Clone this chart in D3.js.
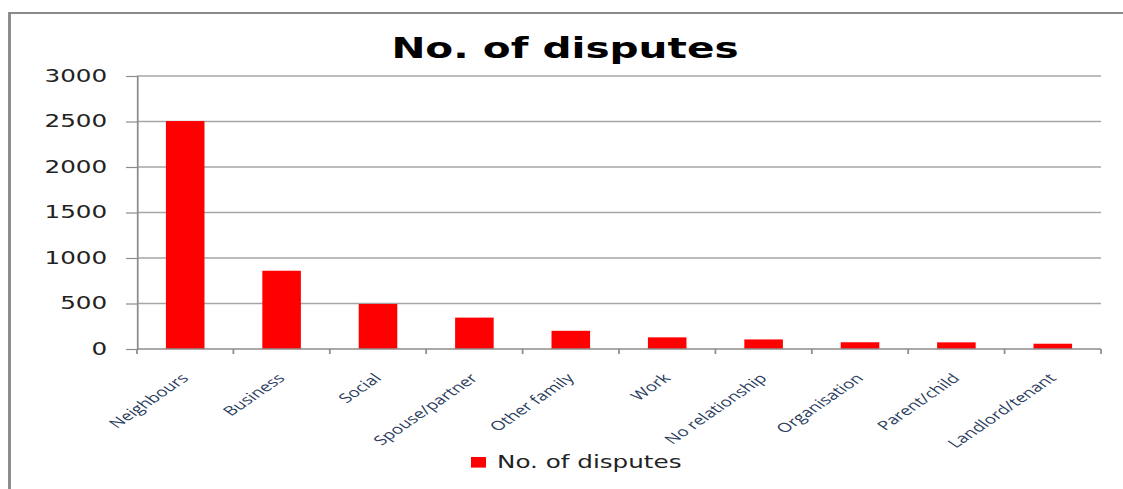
<!DOCTYPE html>
<html>
<head>
<meta charset="utf-8">
<script src="https://cdn.jsdelivr.net/npm/d3@7"></script>
<style>
  html, body { margin: 0; padding: 0; background: #fff; }
  svg { display: block; }
</style>
</head>
<body>
<div id="chart"></div>
<script>
const categories = ['Neighbours', 'Business', 'Social', 'Spouse/partner', 'Other family',
    'Work', 'No relationship', 'Organisation', 'Parent/child', 'Landlord/tenant'];
const disputes = [2505, 860, 495, 345, 200, 128, 105, 74, 73, 58];
const yTicks = [0, 500, 1000, 1500, 2000, 2500, 3000];
const seriesName = 'No. of disputes';
const chartTitle = 'No. of disputes';

// the original picture is stretched sideways, so draw narrow and let the viewBox stretch it
const stretch = 1.45;
const fullW = 1123, fullH = 489;
const W = fullW / stretch;

const margin = { top: 76, left: 137 / stretch, right: W - 1101 / stretch, bottom: fullH - 349 };
const width = W - margin.left - margin.right;
const height = fullH - margin.top - margin.bottom;

const svg = d3.select('#chart').append('svg')
    .attr('width', fullW)
    .attr('height', fullH)
    .attr('viewBox', `0 0 ${W} ${fullH}`)
    .attr('preserveAspectRatio', 'none');

// outer frame: only left and top edges are in view
const frameX = 9.5 / stretch;
svg.append('path')
    .attr('d', `M${frameX},${fullH} V13 H${W}`)
    .attr('fill', 'none')
    .attr('stroke', '#8a8a8a')
    .attr('stroke-width', 2);

svg.append('text')
    .attr('x', 565 / stretch)
    .attr('y', 58)
    .attr('text-anchor', 'middle')
    .style('font-family', '"DejaVu Sans", Verdana, sans-serif')
    .style('font-weight', 'bold')
    .style('font-size', '28px')
    .attr('fill', '#000')
    .text(chartTitle);

const g = svg.append('g')
    .attr('transform', `translate(${margin.left},${margin.top})`);

const slot = d3.scaleBand().domain(categories).range([0, width]);
const x = d3.scaleBand().domain(categories).range([0, width])
    .paddingInner(0.6).paddingOuter(0.3);
const y = d3.scaleLinear().domain([0, 3000]).range([height, 0]);

// gridlines
g.append('g')
    .selectAll('line')
    .data(yTicks.filter(t => t > 0))
    .join('line')
    .attr('x1', 0).attr('x2', width)
    .attr('y1', d => y(d)).attr('y2', d => y(d))
    .attr('stroke', '#a6a6a6')
    .attr('stroke-width', 1.4);

// bars
g.append('g')
    .selectAll('rect')
    .data(categories)
    .join('rect')
    .attr('x', d => x(d))
    .attr('y', (d, i) => y(disputes[i]))
    .attr('width', x.bandwidth())
    .attr('height', (d, i) => height - y(disputes[i]))
    .attr('fill', '#ff0000');

// y axis
const yAxis = g.append('g')
    .call(d3.axisLeft(y).tickValues(yTicks).tickFormat(d3.format('d'))
        .tickSize(137 / stretch - 126 / stretch).tickPadding(13));
yAxis.select('.domain').attr('stroke', '#8c8c8c').attr('stroke-width', 1.2);
yAxis.selectAll('.tick line').attr('stroke', '#8c8c8c').attr('stroke-width', 1.2);
yAxis.selectAll('.tick text')
    .style('font-family', '"DejaVu Sans", Verdana, sans-serif')
    .style('font-size', '17px')
    .attr('fill', '#222');

// x axis line with ticks at slot edges
const xAxis = g.append('g').attr('transform', `translate(0,${height})`);
xAxis.append('line')
    .attr('x1', 0).attr('x2', width)
    .attr('stroke', '#8c8c8c').attr('stroke-width', 1.4);
xAxis.selectAll('line.tk')
    .data(categories.map(c => slot(c)).concat([width]))
    .join('line')
    .attr('class', 'tk')
    .attr('x1', d => d).attr('x2', d => d)
    .attr('y1', 0).attr('y2', 5)
    .attr('stroke', '#8c8c8c').attr('stroke-width', 1.2);

xAxis.selectAll('text')
    .data(categories)
    .join('text')
    .attr('transform', d => `translate(${slot(d) + slot.bandwidth() / 2 + 3},30) rotate(-45)`)
    .attr('text-anchor', 'end')
    .style('font-family', '"Open Sans", "Noto Sans", sans-serif')
    .style('font-size', '13px')
    .attr('fill', '#2a3c5c')
    .text(d => d);

// legend
const legend = svg.append('g')
    .attr('transform', `translate(${471 / stretch},457)`);
legend.append('rect')
    .attr('width', 15 / stretch).attr('height', 10.6)
    .attr('fill', '#ff0000');
legend.append('text')
    .attr('x', (497 - 471) / stretch)
    .attr('y', 11)
    .style('font-family', '"DejaVu Sans", Verdana, sans-serif')
    .style('font-size', '17px')
    .attr('fill', '#222')
    .text(seriesName);
</script>
</body>
</html>
